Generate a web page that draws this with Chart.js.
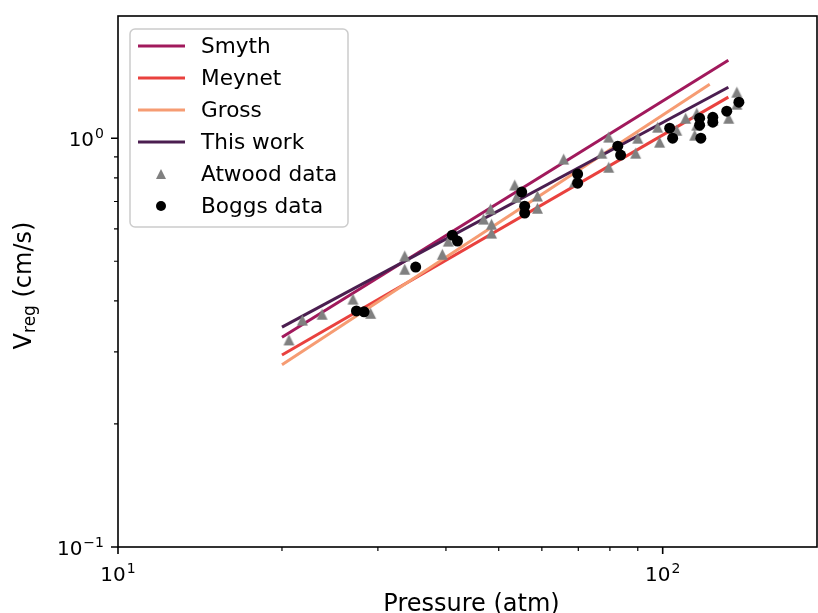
<!DOCTYPE html>
<html>
<head>
<meta charset="utf-8">
<script src="https://cdn.jsdelivr.net/npm/chart.js@4.4.1/dist/chart.umd.min.js"></script>
<style>
html, body { margin: 0; padding: 0; background: #fff; overflow: hidden; }
canvas { display: block; }
</style>
</head>
<body>
<canvas id="myChart" width="818" height="613"></canvas>
<script>
'use strict';

// power-law fits : only the two end points (straight on log-log)
let smythP = [20, 132];
let smythV = [0.326, 1.551];
let meynetP = [20, 132];
let meynetV = [0.295, 1.26];
let grossP = [20, 122];
let grossV = [0.279, 1.355];
let thisWorkP = [20, 132];
let thisWorkV = [0.345, 1.332];

// measured points
let atwoodP = [20.6, 21.8, 23.7, 27.0, 29.1, 33.6, 33.6, 39.4, 40.4, 46.9, 48.3, 48.5, 48.5,
  53.5, 53.9, 58.9, 58.9, 65.8, 68.9, 77.3, 79.6, 79.6, 89.2, 90.0, 97.9, 98.7, 106.1,
  110.2, 115.5, 115.5, 114.5, 123.6, 132.2, 136.8, 136.8];
let atwoodV = [0.321, 0.359, 0.371, 0.404, 0.373, 0.515, 0.478, 0.520, 0.560, 0.634, 0.671, 0.616, 0.586,
  0.768, 0.717, 0.722, 0.674, 0.889, 0.781, 0.919, 1.006, 0.849, 0.919, 1.0, 1.064, 0.978, 1.046,
  1.119, 1.151, 1.076, 1.017, 1.107, 1.119, 1.296, 1.211];
let boggsP = [27.4, 28.3, 35.2, 41.1, 42.0, 55.1, 55.8, 55.8, 69.8, 69.8, 82.7, 83.7,
  103.0, 104.3, 116.9, 116.9, 117.5, 123.6, 123.6, 131.1, 138.0];
let boggsV = [0.378, 0.376, 0.484, 0.579, 0.560, 0.738, 0.682, 0.656, 0.817, 0.776, 0.956, 0.909,
  1.058, 1.0, 1.119, 1.076, 1.0, 1.125, 1.094, 1.164, 1.225];

let seriesNames = ["Smyth", "Meynet", "Gross", "This work", "Atwood data", "Boggs data"];
let lineColors = ["#a1195c", "#e9413e", "#f69c73", "#4b1e50"];

// axis ticks
let xMajor = [10, 100];
let xMajorExp = ["1", "2"];
let yMajor = [0.1, 1];
let yMajorExp = ["\u22121", "0"];
let xMinor = [20, 30, 40, 50, 60, 70, 80, 90];
let yMinor = [0.2, 0.3, 0.4, 0.5, 0.6, 0.7, 0.8, 0.9];

const FONT = '"DejaVu Sans", sans-serif';

function pts(xs, ys) {
  return xs.map((x, i) => ({ x: x, y: ys[i] }));
}

// matplotlib-like triangle marker
function makeTriangle(w, color) {
  let c = document.createElement('canvas');
  c.width = w + 2;
  c.height = w + 2;
  let g = c.getContext('2d');
  g.fillStyle = color;
  g.beginPath();
  g.moveTo(1 + w / 2, 1);
  g.lineTo(1 + w, 1 + w);
  g.lineTo(1, 1 + w);
  g.closePath();
  g.fill();
  return c;
}
let triData = makeTriangle(11, '#808080');
let triLegend = makeTriangle(10, '#808080');

function lineSet(label, xs, ys, color, order) {
  return {
    label: label,
    data: pts(xs, ys),
    showLine: true,
    borderColor: color,
    borderWidth: 3,
    pointRadius: 0,
    fill: false,
    order: order
  };
}

function drawPow(ctx, exp, x, baseY, align) {
  ctx.font = '20px ' + FONT;
  let wb = ctx.measureText('10').width;
  ctx.font = '14px ' + FONT;
  let we = ctx.measureText(exp).width;
  let total = wb + we + 1;
  let left = align === 'center' ? x - total / 2 : x - total;
  ctx.textAlign = 'left';
  ctx.textBaseline = 'alphabetic';
  ctx.fillStyle = '#000';
  ctx.font = '20px ' + FONT;
  ctx.fillText('10', left, baseY);
  ctx.font = '14px ' + FONT;
  ctx.fillText(exp, left + wb + 1, baseY - 8);
}

const decor = {
  id: 'decor',
  afterDraw(chart) {
    let ctx = chart.ctx;
    let a = chart.chartArea;
    let sx = chart.scales.x, sy = chart.scales.y;
    ctx.save();
    ctx.strokeStyle = '#000';

    // ticks
    ctx.lineWidth = 1.6;
    ctx.beginPath();
    xMajor.forEach(v => { let p = sx.getPixelForValue(v); ctx.moveTo(p, a.bottom); ctx.lineTo(p, a.bottom + 7); });
    yMajor.forEach(v => { let p = sy.getPixelForValue(v); ctx.moveTo(a.left, p); ctx.lineTo(a.left - 7, p); });
    ctx.stroke();
    ctx.lineWidth = 1.2;
    ctx.beginPath();
    xMinor.forEach(v => { let p = sx.getPixelForValue(v); ctx.moveTo(p, a.bottom); ctx.lineTo(p, a.bottom + 4); });
    yMinor.forEach(v => { let p = sy.getPixelForValue(v); ctx.moveTo(a.left, p); ctx.lineTo(a.left - 4, p); });
    ctx.stroke();

    // frame
    ctx.lineWidth = 1.6;
    ctx.strokeRect(a.left, a.top, a.right - a.left, a.bottom - a.top);

    // tick labels
    xMajor.forEach((v, i) => drawPow(ctx, xMajorExp[i], sx.getPixelForValue(v), 581, 'center'));
    yMajor.forEach((v, i) => drawPow(ctx, yMajorExp[i], a.left - 14, sy.getPixelForValue(v) + 8, 'right'));

    // axis titles
    ctx.fillStyle = '#000';
    ctx.font = '24px ' + FONT;
    ctx.textAlign = 'center';
    ctx.textBaseline = 'alphabetic';
    ctx.fillText('Pressure (atm)', (a.left + a.right) / 2 + 4, 611);

    ctx.save();
    ctx.translate(31, (a.top + a.bottom) / 2 + 4);
    ctx.rotate(-Math.PI / 2);
    ctx.font = '24px ' + FONT;
    let w1 = ctx.measureText('V').width;
    let w3 = ctx.measureText(' (cm/s)').width;
    ctx.font = '17px ' + FONT;
    let w2 = ctx.measureText('reg').width;
    let x0 = -(w1 + w2 + w3) / 2;
    ctx.textAlign = 'left';
    ctx.font = '24px ' + FONT;
    ctx.fillText('V', x0, 0);
    ctx.font = '17px ' + FONT;
    ctx.fillText('reg', x0 + w1, 4);
    ctx.font = '24px ' + FONT;
    ctx.fillText(' (cm/s)', x0 + w1 + w2, 0);
    ctx.restore();

    // legend
    ctx.beginPath();
    ctx.roundRect(130, 29, 218, 198, 5);
    ctx.fillStyle = 'rgba(255,255,255,0.8)';
    ctx.fill();
    ctx.strokeStyle = '#cccccc';
    ctx.lineWidth = 1.5;
    ctx.stroke();
    let rows = [46, 78, 110, 142, 174, 206];
    ctx.font = '21.6px ' + FONT;
    ctx.textAlign = 'left';
    ctx.textBaseline = 'middle';
    seriesNames.forEach((name, i) => {
      let y = rows[i];
      if (i < 4) {
        ctx.strokeStyle = lineColors[i];
        ctx.lineWidth = 3;
        ctx.beginPath();
        ctx.moveTo(138, y);
        ctx.lineTo(185, y);
        ctx.stroke();
      } else if (i === 4) {
        ctx.drawImage(triLegend, 161 - triLegend.width / 2, y - triLegend.height / 2);
      } else {
        ctx.fillStyle = '#000';
        ctx.beginPath();
        ctx.arc(161, y, 5, 0, Math.PI * 2);
        ctx.fill();
      }
      ctx.fillStyle = '#000';
      ctx.fillText(name, 201, y + 1);
    });
    ctx.restore();
  }
};

new Chart("myChart", {
  type: "scatter",
  data: {
    datasets: [
      lineSet("Smyth", smythP, smythV, lineColors[0], 5),
      lineSet("Meynet", meynetP, meynetV, lineColors[1], 4),
      lineSet("Gross", grossP, grossV, lineColors[2], 3),
      lineSet("This work", thisWorkP, thisWorkV, lineColors[3], 2),
      {
        label: "Atwood data",
        data: pts(atwoodP, atwoodV),
        pointStyle: triData,
        pointRadius: 6,
        order: 1
      },
      {
        label: "Boggs data",
        data: pts(boggsP, boggsV),
        pointStyle: 'circle',
        pointRadius: 5.5,
        backgroundColor: '#000',
        borderColor: '#000',
        borderWidth: 0,
        order: 0
      }
    ]
  },
  options: {
    responsive: false,
    animation: false,
    layout: { autoPadding: false, padding: { left: 118, top: 16, right: 1, bottom: 66 } },
    scales: {
      x: { type: 'logarithmic', min: 10, max: 192, display: false },
      y: { type: 'logarithmic', min: 0.1, max: 1.99, display: false }
    },
    plugins: {
      legend: { display: false },
      tooltip: { enabled: false }
    }
  },
  plugins: [decor]
});
</script>
</body>
</html>
